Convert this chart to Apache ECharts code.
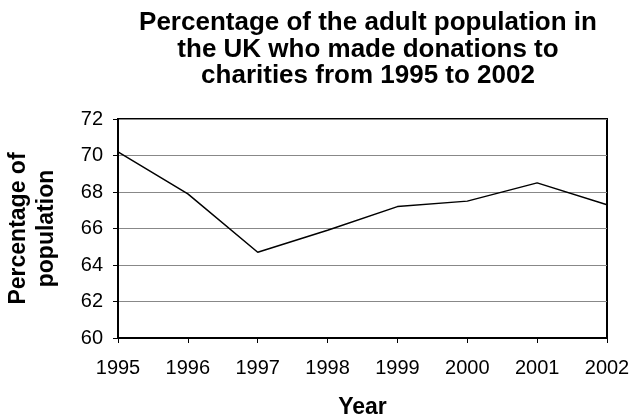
<!DOCTYPE html>
<html>
<head>
<meta charset="utf-8">
<script src="https://cdn.jsdelivr.net/npm/echarts@6/dist/echarts.min.js"></script>
<style>
  html, body { margin: 0; padding: 0; background: #fff; }
  #main { width: 631px; height: 419px; }
</style>
</head>
<body>
<div id="main"></div>
<script>
var years = ["1995", "1996", "1997", "1998", "1999", "2000", "2001", "2002"];
var donors = [70.2, 67.9, 64.7, 65.9, 67.2, 67.5, 68.5, 67.3];
var yMin = 60, yMax = 72, yStep = 2;

var FONT = "Liberation Sans";
var chart = echarts.init(document.getElementById("main"));

chart.setOption({
    animation: false,
    backgroundColor: "#fff",
    title: {
        text: "Percentage of the adult population in\nthe UK who made donations to\ncharities from 1995 to 2002",
        left: 363,
        top: 5,
        textAlign: "center",
        textStyle: {
            fontFamily: FONT,
            fontWeight: "bold",
            fontSize: 26,
            lineHeight: 26.5,
            color: "#000"
        }
    },
    grid: {
        left: 118,
        right: 24,
        top: 119,
        bottom: 81,
        outerBoundsMode: "none",
        containLabel: false,
        show: true,
        borderColor: "#000",
        borderWidth: 2,
        backgroundColor: "transparent"
    },
    xAxis: {
        type: "category",
        data: years,
        boundaryGap: false,
        name: "Year",
        nameLocation: "middle",
        nameGap: 58,
        nameTextStyle: { fontFamily: FONT, fontWeight: "bold", fontSize: 23, color: "#000" },
        axisLine: { lineStyle: { color: "#000", width: 2 } },
        axisTick: { show: true, length: 5, alignWithLabel: true, lineStyle: { color: "#000" } },
        axisLabel: { fontFamily: FONT, fontSize: 20, color: "#000", margin: 20 },
        splitLine: { show: false }
    },
    yAxis: {
        type: "value",
        min: yMin,
        max: yMax,
        interval: yStep,
        name: "Percentage of\npopulation",
        nameLocation: "middle",
        nameRotate: 90,
        nameGap: 57,
        nameTextStyle: { fontFamily: FONT, fontWeight: "bold", fontSize: 23, lineHeight: 28, color: "#000" },
        axisLine: { show: true, lineStyle: { color: "#000", width: 2 } },
        axisTick: { show: true, length: 5, lineStyle: { color: "#000" } },
        axisLabel: { fontFamily: FONT, fontSize: 20, color: "#000", margin: 15 },
        splitLine: { show: true, lineStyle: { color: "#888", width: 1 } }
    },
    series: [{
        type: "line",
        data: donors,
        symbol: "none",
        lineStyle: { color: "#000", width: 1.5 }
    }]
});
</script>
</body>
</html>
